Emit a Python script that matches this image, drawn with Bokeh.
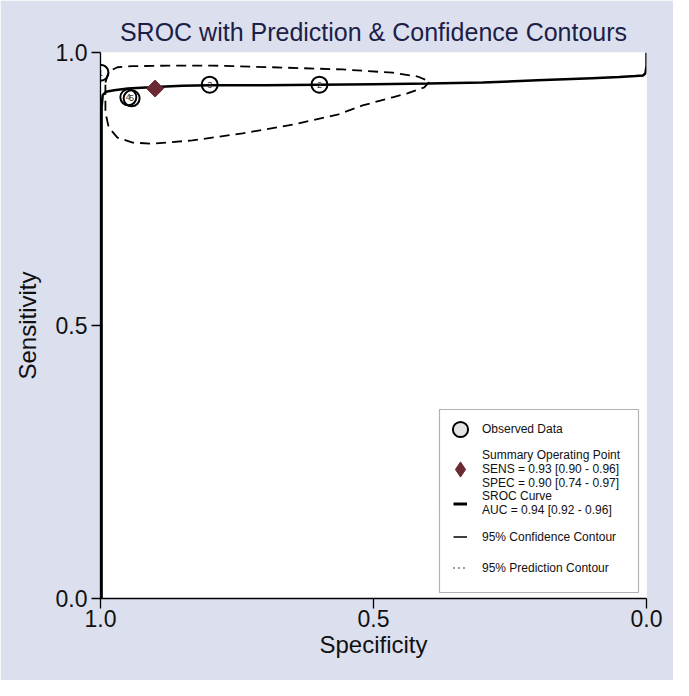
import numpy as np
from bokeh.plotting import figure
from bokeh.models import (Range1d, FixedTicker, PrintfTickFormatter, Legend, LegendItem,
                          BoxAnnotation)
from bokeh.core.properties import value
from bokeh.embed import file_html
from bokeh.resources import INLINE

# ---------------- data ----------------
study_ids = ["1", "2", "3", "4", "5"]
study_spec = [1.000, 0.599, 0.800, 0.949, 0.943]
study_sens = [0.963, 0.941, 0.941, 0.918, 0.916]

summary_spec = [0.900]
summary_sens = [0.934]

sens_est, sens_lo, sens_hi = 0.93, 0.90, 0.96
spec_est, spec_lo, spec_hi = 0.90, 0.74, 0.97
auc_est, auc_lo, auc_hi = 0.94, 0.92, 0.96

sroc_spec = [0.998, 0.998, 0.996, 0.990, 0.975, 0.950, 0.900, 0.850, 0.800, 0.700,
             0.600, 0.500, 0.400, 0.300, 0.200, 0.150, 0.100, 0.050, 0.020, 0.006,
             0.002, 0.000, 0.000]
sroc_sens = [0.000, 0.900, 0.922, 0.928, 0.931, 0.934, 0.937, 0.939, 0.940, 0.940,
             0.941, 0.942, 0.943, 0.945, 0.949, 0.951, 0.953, 0.955, 0.957, 0.958,
             0.962, 0.975, 1.000]

conf_spec = [0.991, 0.985, 0.969, 0.941, 0.868, 0.795, 0.685, 0.557, 0.465, 0.419,
             0.397, 0.407, 0.438, 0.465, 0.520, 0.566, 0.648, 0.740, 0.832, 0.905,
             0.941, 0.969, 0.985, 0.991, 0.991, 0.991]
conf_sens = [0.945, 0.965, 0.973, 0.975, 0.976, 0.976, 0.973, 0.969, 0.963, 0.956,
             0.947, 0.936, 0.925, 0.918, 0.903, 0.886, 0.868, 0.852, 0.839, 0.833,
             0.835, 0.844, 0.863, 0.890, 0.927, 0.945]

x_ticks = [1.0, 0.5, 0.0]
y_ticks = [0.0, 0.5, 1.0]

title_text = "SROC with Prediction & Confidence Contours"
x_label = "Specificity"
y_label = "Sensitivity"

# ---------------- styling ----------------
FONT = "Liberation Sans"
BG = "#dce0ee"
MAROON = "#6b2a33"

p = figure(frame_width=546, frame_height=546,
           min_border_left=100, min_border_right=27,
           min_border_top=52, min_border_bottom=82,
           x_range=Range1d(1.0, 0.0), y_range=Range1d(0.0, 1.0),
           output_backend="svg", toolbar_location=None,
           background_fill_color="white", border_fill_color=BG)

p.outline_line_color = None
p.grid.visible = False

p.title.text = title_text
p.title.text_font = FONT
p.title.text_font_size = "25px"
p.title.text_font_style = "normal"
p.title.text_color = "#1c2047"
p.title.align = "center"
p.title.standoff = 13

for ax, ticks, lab in ((p.xaxis[0], x_ticks, x_label), (p.yaxis[0], y_ticks, y_label)):
    ax.ticker = FixedTicker(ticks=ticks)
    ax.formatter = PrintfTickFormatter(format="%.1f")
    ax.axis_label = lab
    ax.axis_label_text_font = FONT
    ax.axis_label_text_font_size = "24px"
    ax.axis_label_text_font_style = "normal"
    ax.axis_label_text_color = "#111111"
    ax.major_label_text_font = FONT
    ax.major_label_text_font_size = "23px"
    ax.major_label_text_color = "#111111"
    ax.axis_line_color = "black"
    ax.axis_line_width = 1.3
    ax.major_tick_line_color = "black"
    ax.major_tick_line_width = 1.3
    ax.major_tick_in = 0
    ax.minor_tick_line_color = None

p.xaxis.major_tick_out = 10
p.xaxis.major_label_standoff = 1
p.xaxis.axis_label_standoff = 1
p.yaxis.major_tick_out = 9
p.yaxis.major_label_standoff = 4
p.yaxis.axis_label_standoff = 12

# ---------------- marks ----------------
p.line(sroc_spec, sroc_sens, line_color="black", line_width=2.5)
p.line(conf_spec, conf_sens, line_color="black", line_width=1.8, line_dash="10 6")

p.scatter(study_spec, study_sens, marker="circle", size=16, fill_alpha=0,
          line_color="black", line_width=2)
p.text(study_spec, study_sens, text=study_ids, text_font=value(FONT),
       text_font_size="9px", text_align="center", text_baseline="middle",
       text_color="#333333")
p.scatter(summary_spec, summary_sens, marker="square", angle=np.pi / 4, size=12,
          fill_color=MAROON, line_color=MAROON)

# ---------------- legend ----------------
nan1 = np.array([np.nan])
nan2 = np.array([np.nan, np.nan])
leg_obs = p.scatter(nan1, nan1, marker="circle", size=15, fill_color="#e4e4e4",
                    line_color="black", line_width=2)
leg_sum = p.scatter(nan1, nan1, marker="diamond", size=15, fill_color=MAROON,
                    line_color=MAROON)
leg_sroc = p.line(nan2, nan2, line_color="black", line_width=3)
leg_conf = p.line(nan2, nan2, line_color="black", line_width=1.5)
leg_pred = p.line(nan2, nan2, line_color="black", line_width=1.5, line_dash="1 4")

summary_label = ("Summary Operating Point\n"
                 f"SENS = {sens_est:.2f} [{sens_lo:.2f} - {sens_hi:.2f}]\n"
                 f"SPEC = {spec_est:.2f} [{spec_lo:.2f} - {spec_hi:.2f}]")
sroc_label = f"SROC Curve\nAUC = {auc_est:.2f} [{auc_lo:.2f} - {auc_hi:.2f}]"

box = BoxAnnotation(left=339, right=538, bottom=6, top=189,
                    left_units="screen", right_units="screen",
                    top_units="screen", bottom_units="screen",
                    fill_color="white", fill_alpha=1.0,
                    line_color="black", line_width=1.2)
p.add_layout(box)

common = dict(border_line_alpha=0, background_fill_alpha=0, margin=0, padding=0,
              label_text_font=FONT, label_text_font_size="12px",
              label_text_color="#111111")

legA = Legend(items=[LegendItem(label="Observed Data", renderers=[leg_obs]),
                     LegendItem(label=summary_label, renderers=[leg_sum])],
              location=(341, 108), glyph_width=38, glyph_height=38,
              label_height=21, label_standoff=3, spacing=0, **common)
legB = Legend(items=[LegendItem(label=sroc_label, renderers=[leg_sroc]),
                     LegendItem(label="95% Confidence Contour", renderers=[leg_conf]),
                     LegendItem(label="95% Prediction Contour", renderers=[leg_pred])],
              location=(353, 19), glyph_width=14, glyph_height=23,
              label_height=23, label_standoff=15, spacing=8, **common)
p.add_layout(legA)
p.add_layout(legB)

open("out.html", "w").write(file_html(p, INLINE))
